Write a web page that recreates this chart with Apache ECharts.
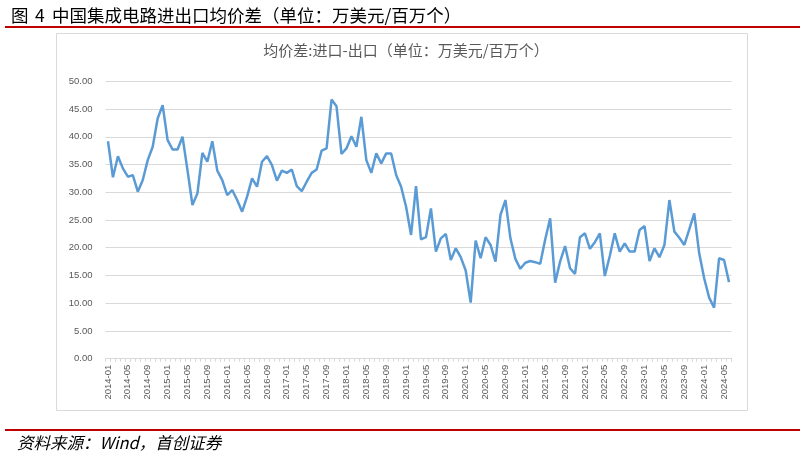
<!DOCTYPE html>
<html>
<head>
<meta charset="utf-8">
<script src="https://cdn.jsdelivr.net/npm/echarts@6/dist/echarts.min.js"></script>
<style>
html,body{margin:0;padding:0;background:#fff;}
#c{width:804px;height:458px;}
</style>
</head>
<body>
<div id="c"></div>
<script>
// Month categories 2014-01 .. 2024-06
const years = [2014,2015,2016,2017,2018,2019,2020,2021,2022,2023,2024];
const months = ['01','02','03','04','05','06','07','08','09','10','11','12'];
const categories = [];
years.forEach(y => months.forEach(m => { if (!(y === 2024 && +m > 6)) categories.push(y + '-' + m); }));

const v2014 = [39.2, 32.7, 36.5, 34.3, 32.8, 33.1, 30.1, 32.2, 35.8, 38.2, 43.3, 45.7];
const v2015 = [39.4, 37.7, 37.7, 40.0, 34.0, 27.7, 29.8, 37.1, 35.5, 39.2, 33.9, 32.2];
const v2016 = [29.5, 30.4, 28.6, 26.5, 29.2, 32.5, 31.0, 35.5, 36.5, 34.9, 32.1, 33.9];
const v2017 = [33.5, 34.1, 31.1, 30.2, 31.9, 33.5, 34.1, 37.5, 37.9, 46.7, 45.5, 36.9];
const v2018 = [37.9, 40.1, 38.2, 43.6, 35.8, 33.5, 37.0, 35.2, 37.0, 37.0, 33.1, 31.0];
const v2019 = [27.4, 22.3, 31.1, 21.5, 21.9, 27.1, 19.3, 21.7, 22.5, 17.8, 19.9, 18.3];
const v2020 = [15.9, 10.1, 21.3, 18.1, 21.9, 20.5, 17.5, 25.9, 28.6, 21.7, 18.0, 16.2];
const v2021 = [17.3, 17.6, 17.4, 17.1, 21.5, 25.3, 13.7, 17.5, 20.3, 16.3, 15.3, 21.9];
const v2022 = [22.6, 19.8, 21.0, 22.6, 14.9, 18.5, 22.6, 19.3, 20.8, 19.3, 19.3, 23.2];
const v2023 = [23.9, 17.6, 19.9, 18.3, 20.5, 28.6, 22.9, 21.8, 20.5, 23.3, 26.2, 19.0];
const v2024 = [14.5, 11.0, 9.2, 18.1, 17.8, 13.8];
const values = [].concat(v2014, v2015, v2016, v2017, v2018, v2019, v2020, v2021, v2022, v2023, v2024);

const yTicks = {min: 0, max: 50, interval: 5};

const chart = echarts.init(document.getElementById('c'), null, {renderer: 'canvas'});
const grey = '#595959';
const hFont = {fontFamily: 'Noto Sans CJK SC', fontSize: 17.5, fontWeight: 'normal', color: '#000'};
chart.setOption({
  backgroundColor: '#ffffff',
  animation: false,
  title: [
    {text: '图', left: 6, top: 2, textStyle: hFont},
    {text: '4', left: 30, top: 2, textStyle: hFont},
    {text: '中国集成电路进出口均价差（单位：万美元/百万个）', left: 47, top: 2, textStyle: hFont},
    {text: '均价差:进口-出口（单位：万美元/百万个）', left: 401, textAlign: 'center', top: 38, textStyle: {fontFamily: 'Noto Sans CJK SC', fontSize: 15, fontWeight: 'normal', color: grey}},
    {text: '资料来源：Wind，首创证券', left: 12, top: 429, textStyle: {fontFamily: 'Noto Sans CJK SC', fontSize: 16.5, fontStyle: 'italic', fontWeight: 'normal', color: '#000'}}
  ],
  graphic: [
    {type: 'rect', shape: {x: 56.5, y: 33.5, width: 691, height: 377}, style: {fill: 'none', stroke: '#d9d9d9', lineWidth: 1}, z: -1},
    {type: 'line', shape: {x1: 5, y1: 27, x2: 800, y2: 27}, style: {stroke: '#c00000', lineWidth: 2}},
    {type: 'line', shape: {x1: 5, y1: 430, x2: 800, y2: 430}, style: {stroke: '#c00000', lineWidth: 2}}
  ],
  grid: {left: 105.5, right: 72.5, top: 81.3, bottom: 99.3, containLabel: false},
  xAxis: {
    type: 'category',
    data: categories,
    boundaryGap: true,
    axisLine: {show: true, lineStyle: {color: '#d9d9d9', width: 1}},
    axisTick: {show: true, interval: 0, length: 3, lineStyle: {color: '#d9d9d9'}},
    axisLabel: {interval: 3, rotate: 90, fontSize: 9.5, color: grey, margin: 6, fontFamily: 'Liberation Sans'},
    splitLine: {show: false}
  },
  yAxis: {
    type: 'value',
    min: yTicks.min, max: yTicks.max, interval: yTicks.interval,
    axisLine: {show: false},
    axisTick: {show: false},
    axisLabel: {formatter: v => v.toFixed(2), fontSize: 9.5, color: grey, margin: 13, fontFamily: 'Liberation Sans'},
    splitLine: {show: true, lineStyle: {color: '#d9d9d9', width: 1}}
  },
  series: [{
    type: 'line',
    data: values,
    symbol: 'none',
    smooth: false,
    lineStyle: {color: '#5b9bd5', width: 2.5},
    itemStyle: {color: '#5b9bd5'}
  }]
});
</script>
</body>
</html>
